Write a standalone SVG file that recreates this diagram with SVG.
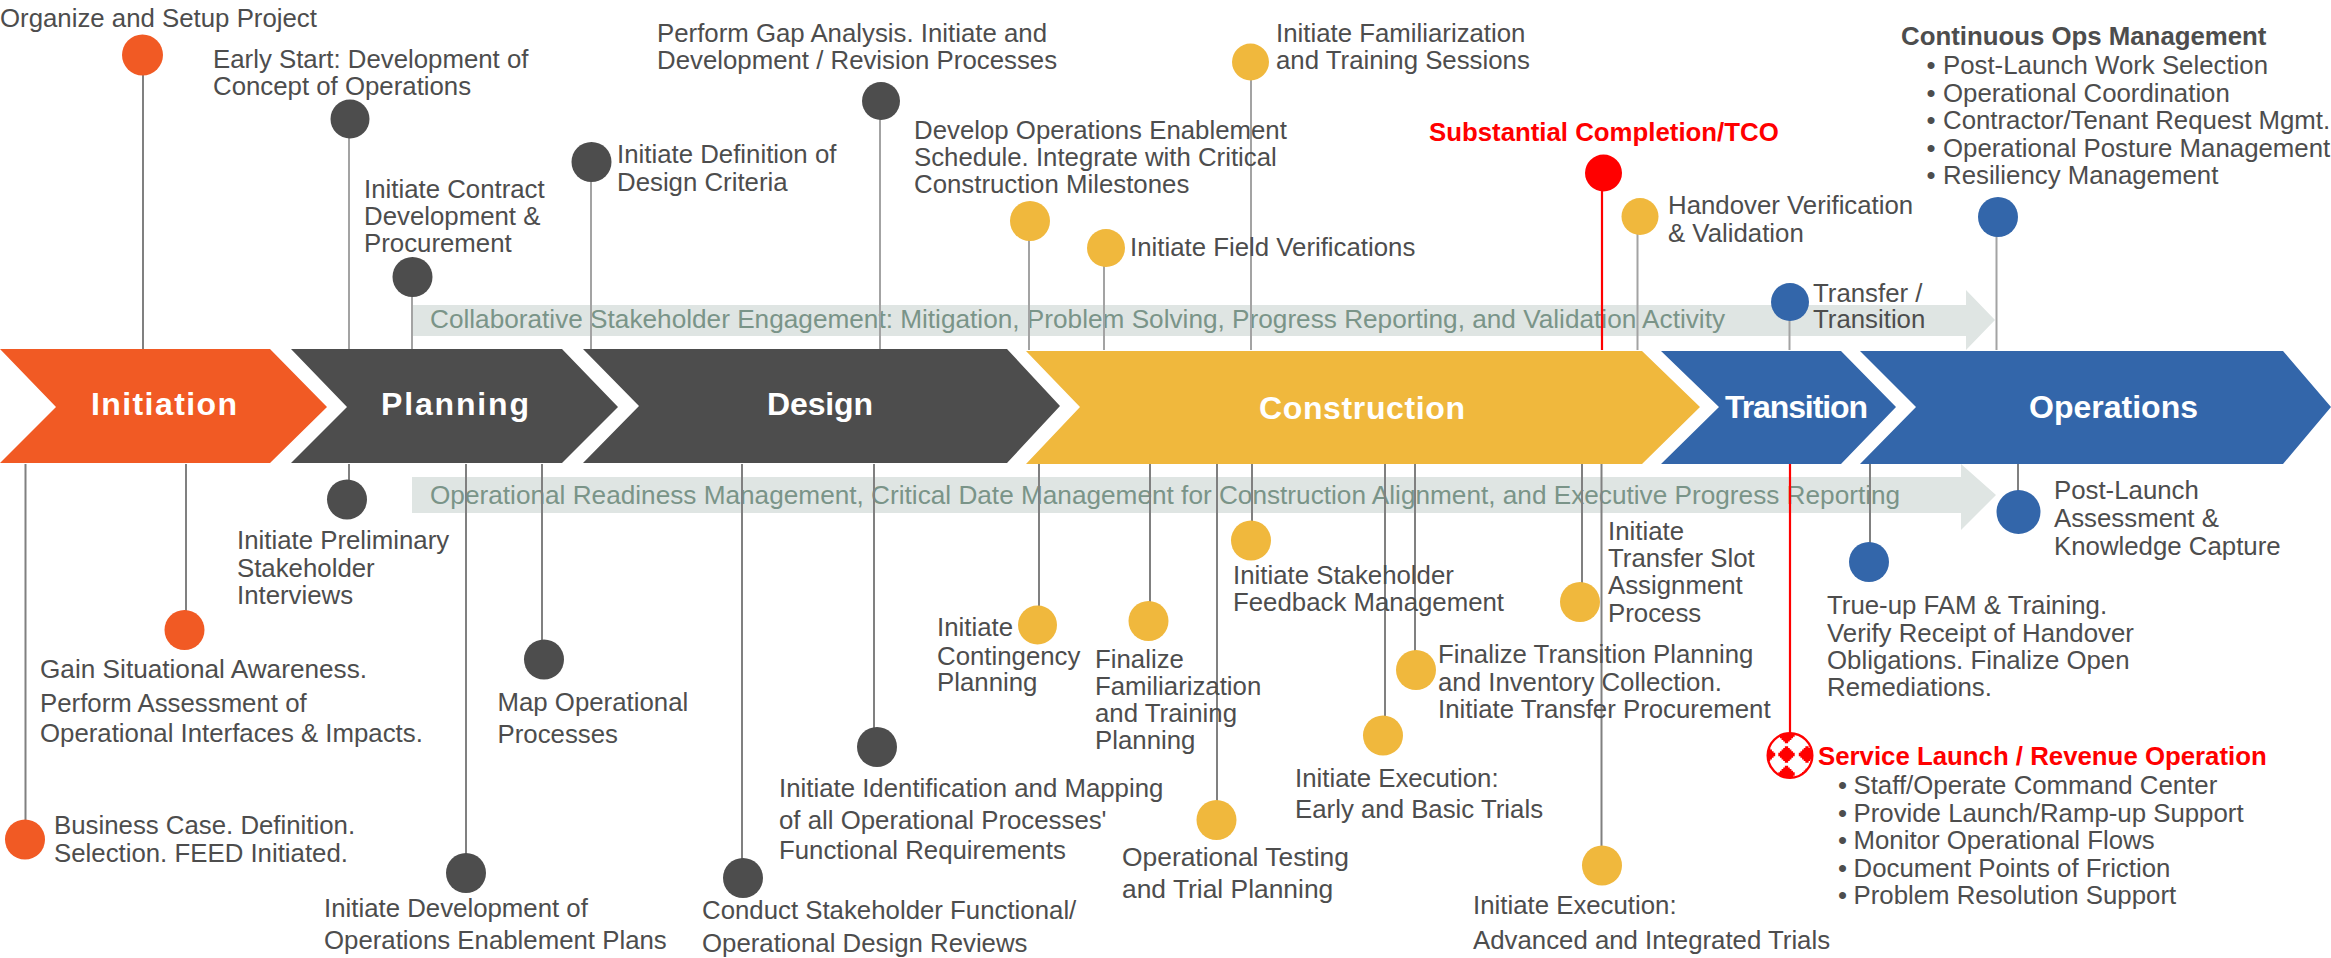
<svg xmlns="http://www.w3.org/2000/svg" width="2331" height="958" viewBox="0 0 2331 958">
<style>
text{font-family:"Liberation Sans",Arial,sans-serif}
.t{font-size:25.8px;fill:#4d4d4d}
.w{font-size:26.4px;fill:#4d4d4d}
.r{font-size:25.8px;fill:#f00;font-weight:bold}
.b{font-size:25.8px;fill:#4d4d4d;font-weight:bold}
.s{font-size:32px;fill:#fff;font-weight:bold}
.g{font-size:26.2px;fill:#7a9488}
.band{fill:#dfe5e3}
.l{stroke:#808080;stroke-width:2;fill:none}
.ll{stroke:#a3a3a3;stroke-width:2;fill:none}
.lr{stroke:#f00;stroke-width:2.2;fill:none}
.o{fill:#f15a24}.d{fill:#4d4d4d}.y{fill:#f0b83d}.u{fill:#3366aa}
</style>
<defs>
<clipPath id="ball"><circle cx="1790" cy="755.500" r="22"/></clipPath>
<path id="st" fill="#f00" transform="scale(.82)" d="M-2-10h4v2h2v2h2v2h2v2h2v4h-2v2h-2v2h-2v2h-2v2h-4v-2h-2v-2h-2v-2h-2v-2h-2v-4h2v-2h2v-2h2v-2h2z"/>
</defs>
<g id="bands">
<polygon class="band" points="412,305 1966,305 1966,290 1995,320 1966,350 1966,336 412,336"/>
<polygon class="band" points="412,477 1961,477 1961,464 1996,495 1961,530 1961,513 412,513"/>
<text class="g" x="430" y="328">Collaborative Stakeholder Engagement: Mitigation, Problem Solving, Progress Reporting, and Validation Activity</text>
<text class="g" x="430" y="503.500">Operational Readiness Management, Critical Date Management for Construction Alignment, and Executive Progress Reporting</text>
</g>
<g id="connectors">
<path class="l" d="M143 55V349"/>
<path class="ll" d="M349 119V349M412 277V349M591 161V349M880 100V349M1029 221V350M1104 247V350M1251 61V350M1637.500 215V350M1789.500 302V350M1996.500 216V350"/>
<path class="lr" d="M1602 172V350M1790 464V733"/>
<path class="l" d="M25.500 464V838M186 464V629M349 464V499M466 464V872M542 464V658M742 464V877M874 464V746M1039 464V625M1150 464V620M1217 464V820M1252 464V541M1385 464V736M1415 464V669M1582 464V601M1601.500 464V865M1870 464V561M2018 464V512"/>
</g>
<g id="stage-initiation"><polygon class="o" points="0,349 270,349 327,407 270,463 0,463 56,407"/><text class="s" x="91" y="415" textLength="146" lengthAdjust="spacing">Initiation</text></g>
<g id="stage-planning"><polygon class="d" points="291,349 562,349 618,407 562,463 291,463 347,407"/><text class="s" x="381" y="415" textLength="148" lengthAdjust="spacing">Planning</text></g>
<g id="stage-design"><polygon class="d" points="583,349 1007,349 1060,406 1007,463 583,463 639,406"/><text class="s" x="767" y="415" textLength="106">Design</text></g>
<g id="stage-construction"><polygon class="y" points="1026,351 1642,351 1700,407 1642,464 1026,464 1080,407"/><text class="s" x="1259" y="419" textLength="206">Construction</text></g>
<g id="stage-transition"><polygon class="u" points="1661,351 1841,351 1896,407 1841,464 1661,464 1719,407"/><text class="s" x="1725" y="418" textLength="143">Transition</text></g>
<g id="stage-operations"><polygon class="u" points="1860,351 2283,351 2331,407 2283,464 1860,464 1916,407"/><text class="s" x="2029" y="418" textLength="169">Operations</text></g>

<g id="n1"><circle class="o" cx="142.500" cy="55" r="20.500"/><text class="t" x="0" y="26.500">Organize and Setup Project</text></g>
<g id="n2"><circle class="d" cx="350" cy="119" r="19.500"/><text class="t"><tspan x="213" y="68">Early Start: Development of</tspan><tspan x="213" y="95">Concept of Operations</tspan></text></g>
<g id="n3"><circle class="d" cx="412.500" cy="277" r="20"/><text class="t"><tspan x="364" y="197.500">Initiate Contract</tspan><tspan x="364" y="225">Development &amp;</tspan><tspan x="364" y="252">Procurement</tspan></text></g>
<g id="n4"><circle class="d" cx="591.500" cy="162" r="20"/><text class="t"><tspan x="617" y="163">Initiate Definition of</tspan><tspan x="617" y="190.500">Design Criteria</tspan></text></g>
<g id="n5"><circle class="d" cx="881" cy="101" r="19"/><text class="t"><tspan x="657" y="41.500">Perform Gap Analysis. Initiate and</tspan><tspan x="657" y="68.500">Development / Revision Processes</tspan></text></g>
<g id="n6"><circle class="y" cx="1030" cy="221" r="20"/><text class="t"><tspan x="914" y="139">Develop Operations Enablement</tspan><tspan x="914" y="166">Schedule. Integrate with Critical</tspan><tspan x="914" y="193">Construction Milestones</tspan></text></g>
<g id="n7"><circle class="y" cx="1106" cy="248" r="19"/><text class="t" x="1130" y="255.500">Initiate Field Verifications</text></g>
<g id="n8"><circle class="y" cx="1250.500" cy="62" r="18.500"/><text class="t"><tspan x="1276" y="41.500">Initiate Familiarization</tspan><tspan x="1276" y="68.500">and Training Sessions</tspan></text></g>
<g id="n9"><circle cx="1603.500" cy="173" r="18.500" fill="#f00"/><text class="r" x="1429" y="141">Substantial Completion/TCO</text></g>
<g id="n10"><circle class="y" cx="1640" cy="216.500" r="18.500"/><text class="t"><tspan x="1668" y="214">Handover Verification</tspan><tspan x="1668" y="242">&amp; Validation</tspan></text></g>
<g id="n11"><circle class="u" cx="1790" cy="302" r="19"/><text class="t"><tspan x="1813" y="301.500">Transfer /</tspan><tspan x="1813" y="328">Transition</tspan></text></g>
<g id="n12"><circle class="u" cx="1998" cy="217" r="20"/><text class="b" x="1901" y="45">Continuous Ops Management</text>
<text class="t"><tspan x="1926.500" y="74">•</tspan><tspan x="1943" y="74">Post-Launch Work Selection</tspan><tspan x="1926.500" y="102">•</tspan><tspan x="1943" y="102">Operational Coordination</tspan><tspan x="1926.500" y="129">•</tspan><tspan x="1943" y="129">Contractor/Tenant Request Mgmt.</tspan><tspan x="1926.500" y="157">•</tspan><tspan x="1943" y="157">Operational Posture Management</tspan><tspan x="1926.500" y="184">•</tspan><tspan x="1943" y="184">Resiliency Management</tspan></text></g>

<g id="n13"><circle class="o" cx="25" cy="839.500" r="20"/><text class="t"><tspan x="54" y="834">Business Case. Definition.</tspan><tspan x="54" y="861.500">Selection. FEED Initiated.</tspan></text></g>
<g id="n14"><circle class="o" cx="184.500" cy="630" r="20"/><text class="t"><tspan x="40" y="677.500" font-size="26.2">Gain Situational Awareness.</tspan><tspan x="40" y="711.500">Perform Assessment of</tspan><tspan x="40" y="742">Operational Interfaces &amp; Impacts.</tspan></text></g>
<g id="n15"><circle class="d" cx="347" cy="499.500" r="20"/><text class="t"><tspan x="237" y="549">Initiate Preliminary</tspan><tspan x="237" y="576.500">Stakeholder</tspan><tspan x="237" y="603.500">Interviews</tspan></text></g>
<g id="n16"><circle class="d" cx="466" cy="873" r="20"/><text class="t"><tspan x="324" y="917">Initiate Development of</tspan><tspan x="324" y="949">Operations Enablement Plans</tspan></text></g>
<g id="n17"><circle class="d" cx="544" cy="659.500" r="20"/><text class="t"><tspan x="497.500" y="710.500">Map Operational</tspan><tspan x="497.500" y="742.500">Processes</tspan></text></g>
<g id="n18"><circle class="d" cx="743" cy="878" r="20"/><text class="t"><tspan x="702" y="919">Conduct Stakeholder Functional/</tspan><tspan x="702" y="952">Operational Design Reviews</tspan></text></g>
<g id="n19"><circle class="d" cx="877" cy="747" r="20"/><text class="t"><tspan x="779" y="797">Initiate Identification and Mapping</tspan><tspan x="779" y="829">of all Operational Processes'</tspan><tspan x="779" y="859">Functional Requirements</tspan></text></g>
<g id="n20"><circle class="y" cx="1037.500" cy="625" r="19.500"/><text class="t"><tspan x="937" y="636">Initiate</tspan><tspan x="937" y="664.500">Contingency</tspan><tspan x="937" y="691">Planning</tspan></text></g>
<g id="n21"><circle class="y" cx="1148.500" cy="621" r="20"/><text class="t"><tspan x="1095" y="667.500">Finalize</tspan><tspan x="1095" y="695">Familiarization</tspan><tspan x="1095" y="722">and Training</tspan><tspan x="1095" y="749">Planning</tspan></text></g>
<g id="n22"><circle class="y" cx="1216.500" cy="820" r="20"/><text class="w"><tspan x="1122" y="866">Operational Testing</tspan><tspan x="1122" y="898">and Trial Planning</tspan></text></g>
<g id="n23"><circle class="y" cx="1251" cy="540.500" r="20"/><text class="t"><tspan x="1233" y="584">Initiate Stakeholder</tspan><tspan x="1233" y="611">Feedback Management</tspan></text></g>
<g id="n24"><circle class="y" cx="1580" cy="602" r="20"/><text class="t"><tspan x="1608" y="539.500">Initiate</tspan><tspan x="1608" y="566.500">Transfer Slot</tspan><tspan x="1608" y="594">Assignment</tspan><tspan x="1608" y="621.500">Process</tspan></text></g>
<g id="n25"><circle class="y" cx="1416" cy="670" r="20"/><text class="t"><tspan x="1438" y="663">Finalize Transition Planning</tspan><tspan x="1438" y="690.500">and Inventory Collection.</tspan><tspan x="1438" y="717.500">Initiate Transfer Procurement</tspan></text></g>
<g id="n26"><circle class="y" cx="1383" cy="735.500" r="20"/><text class="t"><tspan x="1295" y="786.500">Initiate Execution:</tspan><tspan x="1295" y="818">Early and Basic Trials</tspan></text></g>
<g id="n27"><circle class="y" cx="1602" cy="865.500" r="20"/><text class="t"><tspan x="1473" y="914">Initiate Execution:</tspan><tspan x="1473" y="949">Advanced and Integrated Trials</tspan></text></g>
<g id="n28">
<circle cx="1790" cy="755.500" r="22.300" fill="#fff" stroke="#f00" stroke-width="2.400"/>
<g clip-path="url(#ball)"><use href="#st" x="1786.500" y="754.500"/><use href="#st" x="1807" y="754.500"/><use href="#st" x="1767" y="754.500"/><use href="#st" x="1786.500" y="735"/><use href="#st" x="1786.500" y="774"/><use href="#st" x="1809" y="732"/><use href="#st" x="1807" y="777"/></g>
<text class="r" x="1818" y="765">Service Launch / Revenue Operation</text>
<text class="t"><tspan x="1838" y="794">•</tspan><tspan x="1853.500" y="794">Staff/Operate Command Center</tspan><tspan x="1838" y="822">•</tspan><tspan x="1853.500" y="822">Provide Launch/Ramp-up Support</tspan><tspan x="1838" y="849">•</tspan><tspan x="1853.500" y="849">Monitor Operational Flows</tspan><tspan x="1838" y="876.500">•</tspan><tspan x="1853.500" y="876.500">Document Points of Friction</tspan><tspan x="1838" y="904">•</tspan><tspan x="1853.500" y="904">Problem Resolution Support</tspan></text></g>
<g id="n29"><circle class="u" cx="1869" cy="562" r="20"/><text class="t"><tspan x="1827" y="614">True-up FAM &amp; Training.</tspan><tspan x="1827" y="641.500">Verify Receipt of Handover</tspan><tspan x="1827" y="669">Obligations. Finalize Open</tspan><tspan x="1827" y="696">Remediations.</tspan></text></g>
<g id="n30"><circle class="u" cx="2018.500" cy="512" r="22"/><text class="t"><tspan x="2054" y="499">Post-Launch</tspan><tspan x="2054" y="527">Assessment &amp;</tspan><tspan x="2054" y="555">Knowledge Capture</tspan></text></g>
</svg>
